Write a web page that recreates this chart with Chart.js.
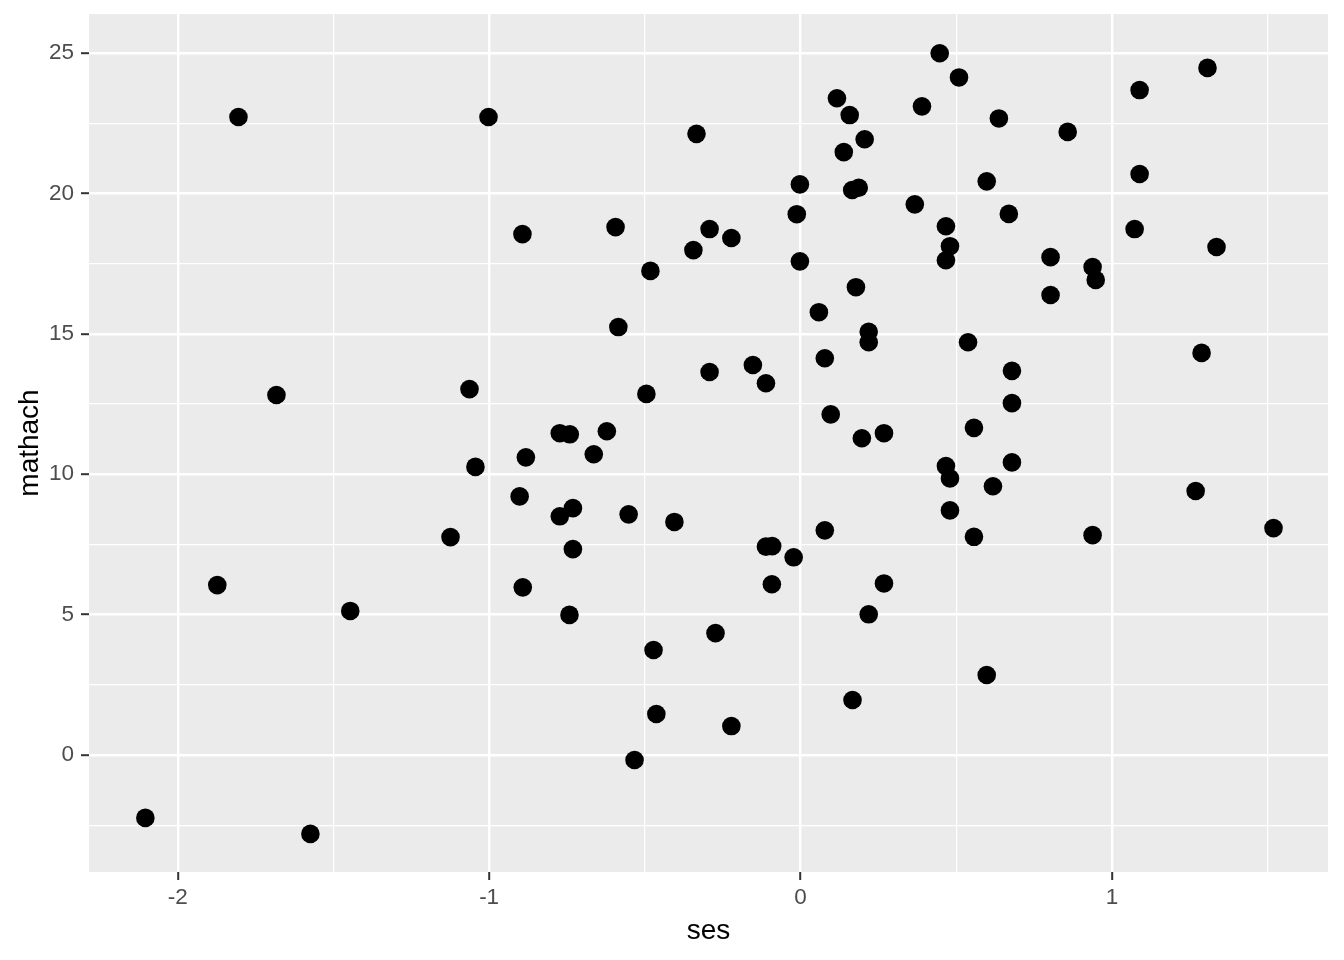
<!DOCTYPE html>
<html>
<head>
<meta charset="utf-8">
<script src="https://cdn.jsdelivr.net/npm/chart.js@4"></script>
<style>
  body { margin: 0; background: #fff; }
  canvas { display: block; }
</style>
</head>
<body>
<canvas id="chart" width="1344" height="960"></canvas>
<script>
// DATA
const ses = [
  -2.104, -1.873, -1.805, -1.683, -1.574, -1.446, -1.124, -1.063, -1.044, -1.002,
  -0.902, -0.893, -0.892, -0.882, -0.773, -0.773, -0.741, -0.731, -0.731, -0.742,
  -0.664, -0.622, -0.594, -0.585, -0.552, -0.533, -0.495, -0.482, -0.472, -0.463,
  -0.405, -0.344, -0.334, -0.292, -0.292, -0.273, -0.222, -0.222, -0.153, -0.111,
  -0.111, -0.091, -0.092, -0.022, -0.012, -0.002, -0.002, 0.059, 0.078, 0.078,
  0.097, 0.117, 0.139, 0.158, 0.166, 0.167, 0.178, 0.187, 0.197, 0.206,
  0.219, 0.219, 0.219, 0.268, 0.268, 0.367, 0.390, 0.447, 0.467, 0.467,
  0.467, 0.480, 0.480, 0.480, 0.509, 0.538, 0.557, 0.557, 0.598, 0.598,
  0.618, 0.637, 0.669, 0.679, 0.679, 0.679, 0.803, 0.803, 0.858, 0.938,
  0.938, 0.948, 1.073, 1.089, 1.089, 1.269, 1.288, 1.307, 1.336, 1.519
];
const mathach = [
  -2.24, 6.05, 22.72, 12.82, -2.81, 5.13, 7.76, 13.03, 10.26, 22.72,
  9.21, 18.55, 5.97, 10.60, 11.46, 8.50, 11.42, 8.79, 7.33, 4.99,
  10.71, 11.53, 18.80, 15.24, 8.57, -0.18, 12.86, 17.24, 3.74, 1.46,
  8.30, 17.98, 22.12, 13.64, 18.73, 4.34, 18.41, 1.03, 13.89, 13.24,
  7.42, 7.44, 6.08, 7.04, 19.26, 20.32, 17.58, 15.77, 14.13, 8.00,
  12.13, 23.39, 21.47, 22.79, 20.12, 1.96, 16.66, 20.20, 11.28, 21.93,
  15.07, 14.70, 5.01, 11.46, 6.11, 19.61, 23.10, 24.99, 10.29, 18.83,
  17.62, 18.12, 9.85, 8.71, 24.13, 14.70, 11.65, 7.77, 20.43, 2.85,
  9.57, 22.67, 19.27, 13.68, 12.53, 10.42, 17.73, 16.38, 22.19, 7.83,
  17.38, 16.92, 18.73, 23.68, 20.69, 9.40, 14.32, 24.47, 18.09, 8.08
];

// grid lines: major ones get a label, minor ones only a thin line
const xTicks = [-2, -1.5, -1, -0.5, 0, 0.5, 1, 1.5];
const xMajor = [-2, -1, 0, 1];
const yTicks = [-2.5, 0, 2.5, 5, 7.5, 10, 12.5, 15, 17.5, 20, 22.5, 25];
const yMajor = [0, 5, 10, 15, 20, 25];

const points = ses.map((x, i) => ({ x: x, y: mathach[i] }));

const panelBg = {
  id: 'panelBg',
  beforeDraw(chart) {
    const { ctx, chartArea: a } = chart;
    ctx.save();
    ctx.fillStyle = '#EBEBEB';
    ctx.fillRect(a.left, a.top, a.right - a.left, a.bottom - a.top);
    ctx.restore();
  }
};

const tickFont = { family: 'Liberation Sans, Arial, sans-serif', size: 22.5 };
const titleFont = { family: 'Liberation Sans, Arial, sans-serif', size: 28, lineHeight: 1.2 };

function axis(values, major, min, max, opts) {
  return Object.assign({
    type: 'linear',
    min: min,
    max: max,
    afterBuildTicks: (scale) => { scale.ticks = values.map(v => ({ value: v })); },
    border: { display: false },
    grid: {
      color: '#FFFFFF',
      lineWidth: (c) => major.includes(c.tick.value) ? 2.4 : 1.2,
      drawTicks: true,
      tickLength: 8,
      tickWidth: 2,
      tickColor: (c) => major.includes(c.tick.value) ? '#333333' : 'rgba(0,0,0,0)'
    }
  }, opts);
}

const cfg = {
  type: 'scatter',
  data: {
    datasets: [{
      data: points,
      backgroundColor: '#000000',
      borderWidth: 0,
      pointRadius: 9.3,
      pointHoverRadius: 9.3
    }]
  },
  options: {
    responsive: false,
    animation: false,
    events: [],
    layout: { padding: { left: 0, right: 16, top: 14, bottom: 0 } },
    plugins: {
      legend: { display: false },
      tooltip: { enabled: false }
    },
    scales: {
      x: axis(xTicks, xMajor, -2.285, 1.694, {
        afterFit: (scale) => { scale.height = 88; scale.paddingLeft = 0; scale.paddingRight = 0; },
        ticks: {
          autoSkip: false, maxRotation: 0, minRotation: 0,
          padding: 4, color: '#4D4D4D', font: tickFont,
          callback: (v) => xMajor.includes(v) ? String(v) : ''
        },
        title: { display: true, text: 'ses', color: '#000000', font: titleFont, padding: { top: 0, bottom: 12 } }
      }),
      y: axis(yTicks, yMajor, -4.167, 26.389, {
        afterFit: (scale) => { scale.width = 89; scale.paddingTop = 0; scale.paddingBottom = 0; },
        ticks: {
          autoSkip: false,
          padding: 7, color: '#4D4D4D', font: tickFont,
          callback: (v) => yMajor.includes(v) ? String(v) : ''
        },
        title: { display: true, text: 'mathach', color: '#000000', font: titleFont, padding: { top: 13, bottom: 0 } }
      })
    }
  },
  plugins: [panelBg]
};

new Chart(document.getElementById('chart'), cfg);
</script>
</body>
</html>
